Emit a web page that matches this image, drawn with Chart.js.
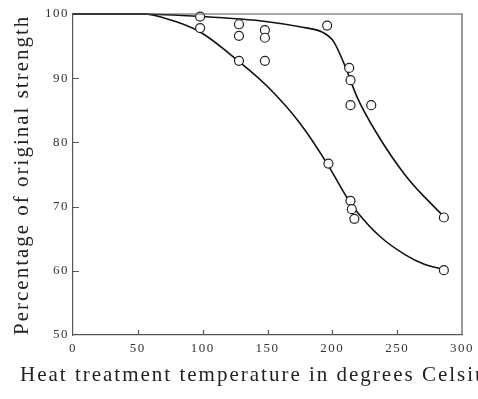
<!DOCTYPE html>
<html>
<head>
<meta charset="utf-8">
<script src="https://cdn.jsdelivr.net/npm/chart.js@4.4.1/dist/chart.umd.min.js"></script>
<style>
  html, body { margin: 0; padding: 0; background: #fff; }
  canvas { display: block; }
</style>
</head>
<body>
<canvas id="strength-chart" width="478" height="399"></canvas>
<script>
// axis ranges and ticks
var xTicks = [0, 50, 100, 150, 200, 250, 300];
var yTicks = [50, 60, 70, 80, 90, 100];
var xTitle = 'Heat treatment temperature in degrees Celsius';
var yTitle = 'Percentage of original strength';

// measured points (open circles)
var pointTemps = [98, 98, 128, 128, 128, 148, 148, 148, 196, 197, 213, 214, 214, 230, 214, 215, 217, 286, 286];
var pointValues = [99.6, 97.8, 98.4, 96.6, 92.7, 97.5, 96.3, 92.7, 98.2, 76.7, 91.6, 89.7, 85.8, 85.8, 70.9, 69.6, 68.1, 68.3, 60.1];

// upper fitted curve
var upperTemps = [0, 50, 100, 150, 175, 193, 201, 210, 219, 234, 257, 286];
var upperValues = [100, 100, 99.6, 98.8, 98.0, 97.1, 95.7, 91.8, 87.1, 81.5, 74.7, 68.4];

// lower fitted curve
var lowerTemps = [0, 54, 75, 98, 128, 150, 175, 196, 211, 219, 237, 257, 270, 286];
var lowerValues = [100, 100, 99.1, 97.2, 92.6, 88.7, 83.0, 76.7, 71.5, 69.2, 65.3, 62.4, 61.1, 60.2];

function toXY(xs, ys) {
    var out = [];
    for (var i = 0; i < xs.length; i++) {
        out.push({x: xs[i], y: ys[i]});
    }
    return out;
}

var serif = '"Liberation Serif", "DejaVu Serif", serif';

// frame, inner ticks and axis titles
var decorPlugin = {
    id: 'decor',
    beforeDraw: function (chart) {
        chart.ctx.letterSpacing = '1.5px';
    },
    afterDraw: function (chart) {
        var ctx = chart.ctx,
            area = chart.chartArea,
            xs = chart.scales.x,
            ys = chart.scales.y;

        ctx.save();
        ctx.strokeStyle = '#555';
        ctx.lineWidth = 1.2;
        ctx.beginPath();
        ctx.moveTo(area.left, area.top);
        ctx.lineTo(area.right, area.top);
        ctx.lineTo(area.right, area.bottom);
        ctx.stroke();

        ctx.beginPath();
        for (var i = 1; i < xTicks.length - 1; i++) {
            var px = Math.round(xs.getPixelForValue(xTicks[i])) + 0.5;
            ctx.moveTo(px, area.bottom);
            ctx.lineTo(px, area.bottom - 5);
        }
        for (var j = 1; j < yTicks.length - 1; j++) {
            var py = Math.round(ys.getPixelForValue(yTicks[j])) + 0.5;
            ctx.moveTo(area.left, py);
            ctx.lineTo(area.left + 6, py);
        }
        ctx.stroke();

        ctx.fillStyle = '#222';
        ctx.letterSpacing = '2px';
        ctx.font = '21px ' + serif;
        ctx.textAlign = 'left';
        ctx.textBaseline = 'alphabetic';
        ctx.fillText(xTitle, 20, 381);

        ctx.translate(28, 335);
        ctx.rotate(-Math.PI / 2);
        ctx.fillText(yTitle, 0, 0);
        ctx.restore();

        ctx.letterSpacing = '0px';
    }
};

var chart = new Chart(document.getElementById('strength-chart'), {
    type: 'scatter',
    data: {
        datasets: [
            {
                label: 'Measured',
                data: toXY(pointTemps, pointValues),
                showLine: false,
                pointStyle: 'circle',
                pointRadius: 4.5,
                pointBorderWidth: 1.2,
                pointBorderColor: '#222',
                pointBackgroundColor: '#fff',
                order: 0
            },
            {
                label: 'Upper',
                data: toXY(upperTemps, upperValues),
                showLine: true,
                cubicInterpolationMode: 'monotone',
                borderColor: '#111',
                borderWidth: 1.6,
                pointRadius: 0,
                order: 1
            },
            {
                label: 'Lower',
                data: toXY(lowerTemps, lowerValues),
                showLine: true,
                cubicInterpolationMode: 'monotone',
                borderColor: '#111',
                borderWidth: 1.6,
                pointRadius: 0,
                order: 1
            }
        ]
    },
    options: {
        responsive: false,
        animation: false,
        clip: false,
        layout: {padding: {top: 14, right: 16, left: 0, bottom: 0}},
        plugins: {
            legend: {display: false},
            tooltip: {enabled: false}
        },
        scales: {
            x: {
                type: 'linear',
                min: 0,
                max: 300,
                afterFit: function (scale) { scale.height = 64; },
                afterBuildTicks: function (scale) {
                    scale.ticks = xTicks.map(function (v) { return {value: v}; });
                },
                grid: {drawOnChartArea: false, drawTicks: false},
                border: {color: '#555', width: 1.2},
                ticks: {
                    padding: 6,
                    color: '#333',
                    font: {family: serif, size: 13}
                }
            },
            y: {
                type: 'linear',
                min: 50,
                max: 100,
                afterFit: function (scale) { scale.width = 73; },
                afterBuildTicks: function (scale) {
                    scale.ticks = yTicks.map(function (v) { return {value: v}; });
                },
                grid: {drawOnChartArea: false, drawTicks: false},
                border: {color: '#555', width: 1.2},
                ticks: {
                    padding: 4,
                    color: '#333',
                    font: {family: serif, size: 13}
                }
            }
        }
    },
    plugins: [decorPlugin]
});
</script>
</body>
</html>
